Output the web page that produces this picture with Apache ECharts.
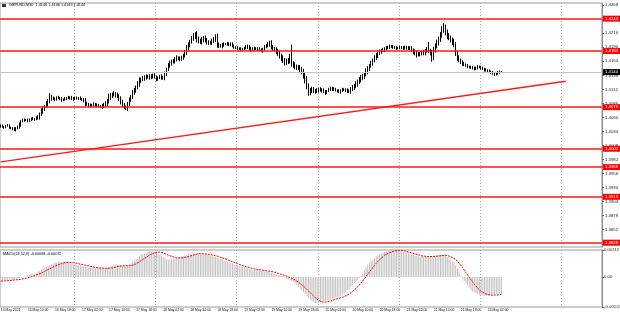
<!DOCTYPE html>
<html><head><meta charset="utf-8">
<script src="https://cdn.jsdelivr.net/npm/echarts@6/dist/echarts.min.js"></script>
<style>html,body{margin:0;padding:0;background:#fff}#c{width:620px;height:316px}</style>
</head><body><div id="c"></div>
<script>
const SYMBOL = 'GBPUSD,M30';
const MACD_NAME = 'MACD(24,52,9)';
const PRICE_BASE = 1.4, PIP = 0.0001;
const TOTAL_SLOTS = 356;
const firstOpenPips = 45;
// closes in pips above 1.4000, one per M30 bar (14 May 02:00 .. 24 May)
const closePips = [
44,43,42,44,45,42,40,39,37,40,
42,47,53,55,56,55,54,56,58,57,
57,59,60,66,72,76,80,85,90,98,
96,95,94,96,96,95,93,93,95,96,
97,96,94,95,96,95,96,94,93,92,
86,85,83,82,83,84,84,82,81,80,
82,83,85,90,98,100,102,104,102,100,
95,88,84,80,77,85,92,98,105,110,
115,122,128,130,132,135,136,135,134,136,
138,135,132,134,136,134,133,140,148,155,
160,163,165,168,170,169,168,171,174,180,
188,194,200,206,210,214,205,202,200,204,
207,203,200,198,198,201,205,210,195,193,
192,194,196,196,197,196,195,192,190,189,
188,187,186,187,188,190,192,188,185,186,
188,187,186,185,184,187,190,193,195,198,
190,188,186,182,178,174,170,166,162,163,
165,170,160,157,155,153,152,148,145,138,
130,118,106,109,112,110,108,110,112,111,
110,108,106,109,112,113,114,112,110,109,
108,110,112,111,110,109,108,112,115,118,
122,126,130,133,136,140,145,150,155,160,
165,170,175,179,182,184,185,187,188,190,
192,191,190,189,188,189,190,189,188,189,
190,189,188,185,182,179,176,177,178,179,
180,183,185,183,180,170,185,192,198,205,
212,222,226,218,210,207,204,200,195,180,
170,166,162,160,158,156,154,153,153,151,
150,152,154,153,152,150,148,147,146,145,
143,141,140,141,143,146,144];
const upWick = [
2,3,1,2,3,2,1,2,3,2, 3,4,2,3,2,1,3,2,2,3, 2,3,4,3,5,4,3,5,4,7, 4,3,2,3,4,2,3,2,3,2,
3,2,4,3,2,3,2,3,2,3, 4,3,2,3,2,4,3,2,3,2, 3,4,5,4,6,5,4,5,3,4, 3,4,5,3,2,4,5,4,6,5,
4,5,6,4,5,3,4,3,5,4, 3,4,3,2,3,4,3,5,4,6, 5,4,3,4,5,3,4,3,4,5, 6,5,4,5,6,4,6,5,4,5,
4,5,4,3,4,5,4,4,5,4, 3,4,3,2,3,2,3,4,3,2, 3,2,3,2,3,4,3,2,3,4, 3,2,3,4,3,2,4,3,5,4,
5,4,3,4,5,6,4,5,4,6, 5,8,25,4,5,3,4,5,6,5, 6,7,5,6,5,4,3,4,3,4, 3,4,3,2,3,4,3,2,3,2,
3,2,3,2,3,4,3,4,5,4, 5,4,5,6,5,4,6,5,4,5, 4,5,4,3,4,3,4,3,4,3, 3,2,3,2,3,2,3,2,3,4,
3,2,3,4,3,4,5,4,3,4, 5,4,6,15,4,5,6,5,6,5, 6,7,9,6,5,6,5,4,6,5, 4,5,3,4,3,2,3,2,3,2,
3,2,3,2,3,2,2,3,2,3, 2,3,2,2,3,1,0];
const dnWick = [
3,2,3,2,1,3,2,3,2,3, 2,3,4,2,3,2,3,2,3,2, 3,2,3,4,3,5,4,3,5,4, 5,3,4,3,2,3,4,3,2,3,
2,3,2,4,3,2,3,2,3,4, 5,3,4,3,2,3,4,3,2,3, 4,3,4,5,4,6,4,3,5,4, 5,4,5,4,3,5,4,3,4,3,
4,3,5,4,3,4,5,3,4,3, 4,3,5,4,3,4,3,4,3,2, 3,4,3,5,4,3,4,3,4,3, 4,5,4,3,4,5,6,5,4,5,
5,4,5,4,3,4,3,5,6,4, 3,4,3,2,3,4,3,2,3,2, 3,2,3,2,3,2,3,4,3,2, 3,2,3,2,3,4,3,2,3,4,
4,5,4,5,4,5,6,5,6,5, 4,5,6,5,6,5,4,6,5,6, 7,6,6,5,4,5,4,3,4,3, 4,3,4,3,2,3,4,3,2,3,
3,4,3,2,3,4,3,4,3,4, 4,5,4,5,4,5,4,5,4,3, 4,3,4,5,3,4,3,4,3,2, 3,2,3,2,3,2,3,2,3,2,
3,4,3,4,5,4,5,3,4,3, 4,5,3,4,5,7,4,5,4,5, 5,4,5,6,5,4,5,6,5,6, 5,4,3,4,3,2,3,2,3,2,
3,2,3,2,3,2,3,2,3,2, 3,2,3,2,2,2,1];
// MACD main (histogram) and signal, in units of 0.00001
const macdMain = [
-15,-14,-13,-13,-12,-11,-11,-10,-10,-8, -6,-4,-2,-1,0,3,6,9,12,14,
15,18,22,26,30,34,38,42,45,49, 53,56,59,61,63,64,63,62,61,60,
58,56,55,53,52,50,49,47,46,44, 42,41,40,39,38,38,37,37,36,36,
36,36,36,38,41,44,46,48,49,50, 50,48,47,46,45,47,51,56,62,68,
74,80,86,91,95,99,102,104,106,107, 106,104,101,97,93,88,83,79,75,73,
74,75,77,78,79,80,82,84,86,89, 92,94,96,98,99,99,98,97,95,94,
93,92,92,90,88,86,84,82,79,77, 75,72,69,66,63,60,57,55,52,50,
48,46,44,42,40,38,36,34,32,31, 30,29,28,27,26,25,24,22,21,20,
18,16,13,11,8,6,5,2,-2,-6, -10,-13,-15,-20,-27,-34,-41,-48,-55,-62,
-70,-78,-86,-93,-99,-104,-107,-107,-106,-104, -102,-100,-98,-96,-94,-92,-89,-87,-85,-84,
-82,-78,-73,-67,-61,-55,-50,-43,-35,-27, -19,-12,-5,6,18,30,41,51,60,67,
74,80,86,91,95,98,101,104,106,108, 110,111,112,112,111,110,108,106,104,102,
100,98,96,94,91,89,87,86,85,85, 85,86,86,87,87,86,85,86,88,90,
91,92,92,88,83,77,70,64,60,48, 35,20,5,-6,-16,-26,-35,-43,-55,-60,
-64,-68,-71,-73,-75,-76,-77,-77,-76,-75, -74,-73,-72,-71,-70,-69,-68];
const macdSignal = [
-17,-17,-16,-16,-15,-14,-14,-13,-12,-12, -11,-10,-9,-8,-6,-5,-3,-1,1,3,
6,8,11,14,17,20,24,27,31,35, 38,42,45,48,51,54,56,58,60,61,
61,61,60,59,58,57,55,54,52,51, 49,47,46,44,43,41,40,39,38,38,
37,37,36,36,37,37,38,40,41,43, 45,46,47,47,47,47,47,48,49,52,
55,59,63,68,73,78,82,87,91,95, 98,100,102,103,103,102,100,97,94,91,
88,86,84,82,80,79,79,79,80,81, 83,85,87,89,91,93,95,96,97,97,
96,96,95,94,93,91,90,88,86,84, 82,80,77,75,72,69,66,63,60,57,
55,52,50,47,45,43,41,39,37,35, 34,32,31,30,29,28,27,26,25,24,
23,21,20,18,16,14,11,9,6,4, 1,-2,-5,-8,-12,-16,-21,-26,-32,-38,
-44,-51,-58,-65,-72,-79,-86,-92,-97,-101, -103,-104,-104,-103,-101,-99,-97,-94,-92,-90,
-88,-86,-84,-81,-78,-74,-70,-65,-60,-54, -47,-40,-33,-25,-16,-7,2,12,21,31,
40,49,57,65,72,79,85,90,94,98, 101,104,106,108,109,110,110,110,109,108,
106,104,102,100,98,96,94,92,90,88, 87,86,86,85,85,85,85,86,86,87,
88,89,90,90,89,87,84,81,78,73, 66,58,49,39,29,19,9,-1,-11,-21,
-30,-38,-46,-53,-59,-64,-68,-71,-73,-74, -75,-75,-75,-75,-74,-73,-72];
const timeLabels = ["14 May 2021","14 May 10:00","14 May 18:00","17 May 02:00","17 May 10:00","17 May 18:00",
"18 May 02:00","18 May 10:00","18 May 18:00","19 May 02:00","19 May 10:00","19 May 18:00",
"20 May 02:00","20 May 10:00","20 May 18:00","21 May 02:00","21 May 10:00","21 May 18:00","24 May 02:00"];
const LABEL_STEP = 16;
const DAY_FIRST = 44, DAY_STEP = 48;
const priceTicks = [1.4268,1.4242,1.4216,1.4190,1.4164,1.4138,1.4112,1.4086,1.4060,1.4034,1.4008,1.3982,1.3956,1.3930,1.3904,1.3878,1.3852,1.3826];
const levels = [1.4243,1.4183,1.4079,1.4002,1.3968,1.3913,1.3828];
const bidPrice = 1.4144;
const trendPoints = [[0,1.39777],[334,1.41269]];
const macdTicks = [0.00112, 0, -0.00124];
const PRICE_MIN = 1.3820, PRICE_MAX = 1.4272;
const MACD_MIN = -0.00124, MACD_MAX = 0.00112;

const toPrice = p => +(PRICE_BASE + p * PIP).toFixed(5);
const candles = closePips.map((c, i) => {
  const o = i === 0 ? firstOpenPips : closePips[i - 1];
  const h = Math.max(o, c) + upWick[i], l = Math.min(o, c) - dnWick[i];
  return [toPrice(o), toPrice(c), toPrice(l), toPrice(h)];
});
const cats = Array.from({length: TOTAL_SLOTS}, (_, i) => String(i));
const last = candles[candles.length - 1];
const f4 = v => v.toFixed(4), f5 = v => v.toFixed(5);
const mainTitle = SYMBOL + '  ' + [last[0], last[3], last[2], last[1]].map(f4).join(' ');
const macdTitle = MACD_NAME + ' ' + f5(macdMain[macdMain.length - 1] * 1e-5) + ' ' + f5(macdSignal[macdSignal.length - 1] * 1e-5);
const FONT = 'Liberation Sans';
const dayLine = i => i >= DAY_FIRST && (i - DAY_FIRST) % DAY_STEP === 0;
const splitStyle = {show: true, interval: dayLine, lineStyle: {color: '#a8a8a8', type: [1, 2], width: 1}};
const lvlLabel = (bg) => ({show: true, position: 'end', distance: 1, formatter: p => f4(p.value),
  backgroundColor: bg, color: '#fff', fontSize: 4.3, padding: [1, 2], fontFamily: FONT});

const chart = echarts.init(document.getElementById('c'), null, {renderer: 'canvas'});
chart.setOption({
  animation: false,
  backgroundColor: '#ffffff',
  title: [
    {text: mainTitle, left: 9, top: 3, padding: 0, textStyle: {fontSize: 3.8, fontWeight: 'normal', color: '#000', fontFamily: FONT}},
    {text: macdTitle, left: 3, top: 252, padding: 0, textStyle: {fontSize: 3.8, fontWeight: 'normal', color: '#000', fontFamily: FONT}}
  ],
  graphic: [{type: 'rect', left: 2, top: 4, shape: {width: 4, height: 3}, style: {fill: '#333'}}],
  grid: [
    {left: 0, right: 18, top: 3, height: 244, outerBoundsMode: 'none', containLabel: false, show: true, borderColor: '#9a9a9a', borderWidth: 1, backgroundColor: 'transparent'},
    {left: 0, right: 18, top: 250, height: 57, outerBoundsMode: 'none', containLabel: false, show: true, borderColor: '#9a9a9a', borderWidth: 1, backgroundColor: 'transparent'}
  ],
  xAxis: [
    {type: 'category', gridIndex: 0, data: cats, boundaryGap: true,
     axisLine: {show: false}, axisTick: {show: false}, axisLabel: {show: false}, splitLine: splitStyle},
    {type: 'category', gridIndex: 1, data: cats, boundaryGap: true,
     axisLine: {show: false}, axisTick: {show: false},
     axisLabel: {show: true, showMinLabel: true, hideOverlap: false, interval: i => i % LABEL_STEP === 0 && i / LABEL_STEP < timeLabels.length,
       formatter: (v, i) => timeLabels[i / LABEL_STEP] || '', align: 'left', fontSize: 3.4, margin: 2, color: '#111', fontFamily: FONT},
     splitLine: splitStyle}
  ],
  yAxis: [
    {type: 'value', gridIndex: 0, position: 'right', min: PRICE_MIN, max: PRICE_MAX, scale: true,
     splitLine: {show: false}, axisLine: {show: true, lineStyle: {color: '#888'}},
     axisTick: {show: true, length: 2, customValues: priceTicks, lineStyle: {color: '#666'}},
     axisLabel: {customValues: priceTicks, formatter: f4, fontSize: 4.3, margin: 3, color: '#222', fontFamily: FONT}},
    {type: 'value', gridIndex: 1, position: 'right', min: MACD_MIN, max: MACD_MAX,
     splitLine: {show: false}, axisLine: {show: true, lineStyle: {color: '#888'}},
     axisTick: {show: true, length: 2, customValues: macdTicks, lineStyle: {color: '#666'}},
     axisLabel: {customValues: macdTicks, formatter: v => v === 0 ? '0.00' : f5(v), fontSize: 4.3, margin: 2, color: '#222', fontFamily: FONT}}
  ],
  series: [
    {type: 'candlestick', xAxisIndex: 0, yAxisIndex: 0, data: candles, barWidth: 1,
     itemStyle: {color: '#ffffff', color0: '#000000', borderColor: '#000000', borderColor0: '#000000', borderWidth: 1},
     markLine: {silent: true, symbol: ['none', 'none'], animation: false, precision: 5,
       data: levels.map(v => ({yAxis: v, lineStyle: {color: '#ff1a1a', width: 1.5, type: 'solid'}, label: lvlLabel('#ff0000')}))
         .concat([{yAxis: bidPrice, lineStyle: {color: '#c4c4c4', width: 1, type: 'solid'}, label: lvlLabel('#000000')}])}},
    {type: 'line', xAxisIndex: 0, yAxisIndex: 0, data: trendPoints, symbol: 'none', silent: true,
     lineStyle: {color: '#ff1a1a', width: 1.5}},
    {type: 'bar', xAxisIndex: 1, yAxisIndex: 1, data: macdMain.map(v => +(v * 1e-5).toFixed(6)), barWidth: 1,
     itemStyle: {color: '#c0c0c0'}},
    {type: 'line', xAxisIndex: 1, yAxisIndex: 1, data: macdSignal.map(v => +(v * 1e-5).toFixed(6)), symbol: 'none',
     lineStyle: {color: '#ff0000', width: 1, type: [2, 1]}}
  ]
});
</script></body></html>
